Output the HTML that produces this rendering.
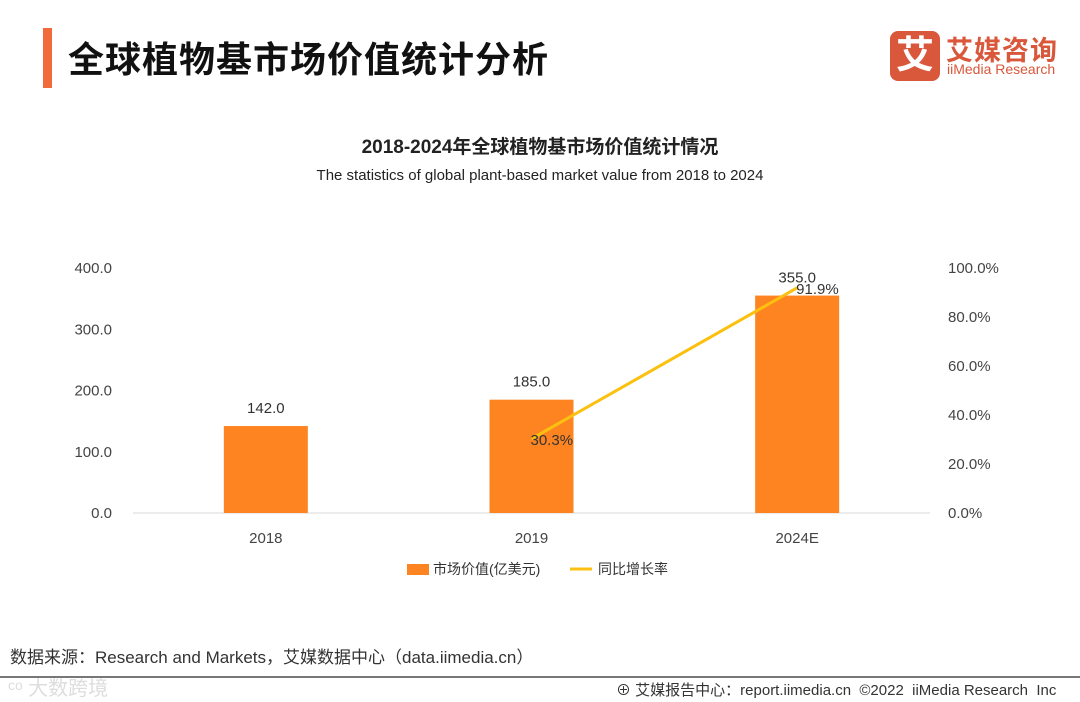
<!DOCTYPE html>
<html><head><meta charset="utf-8"><style>
body{margin:0;width:1080px;height:702px;background:#fff;overflow:hidden;font-family:"Liberation Sans","Noto Sans CJK SC",sans-serif;position:relative}
.a{position:absolute;white-space:nowrap}
</style></head><body>
<div class="a" style="left:43px;top:28px;width:9px;height:60px;background:#f06a3c"></div>
<div class="a" style="left:68px;top:31px;font-size:36px;font-weight:bold;color:#111;letter-spacing:1px">全球植物基市场价值统计分析</div>
<div class="a" style="left:890px;top:31px;width:168px;height:50px">
 <div class="a" style="left:0;top:0;width:50px;height:50px;background:#d9573a;border-radius:8px;color:#fff;font-size:38px;font-weight:bold;text-align:center;line-height:50px">艾</div>
 <div class="a" style="left:56px;top:-2px;font-size:27px;font-weight:bold;color:#d9573a;letter-spacing:1px">艾媒咨询</div>
 <div class="a" style="left:57px;top:30px;font-size:14px;color:#d9573a">iiMedia Research</div>
</div>
<div class="a" style="left:0;width:1080px;text-align:center;top:132px;font-size:19px;font-weight:bold;color:#222">2018-2024年全球植物基市场价值统计情况</div>
<div class="a" style="left:0;width:1080px;text-align:center;top:167px;font-size:15px;color:#222">The statistics of global plant-based market value from 2018 to 2024</div>
<svg class="a" style="left:0;top:0" width="1080" height="702" id="chart"></svg>
<div class="a" style="left:10px;top:643px;font-size:17px;color:#333">数据来源：Research and Markets，艾媒数据中心（data.iimedia.cn）</div>
<div class="a" style="left:0;top:676px;width:1080px;height:2px;background:#777"></div>
<div class="a" style="left:8px;top:672px;font-size:20px;color:#ddd">ᶜᵒ 大数跨境</div>
<div class="a" style="left:616px;top:679px;font-size:15px;color:#333">⊕ 艾媒报告中心：report.iimedia.cn &nbsp;©2022 &nbsp;iiMedia Research &nbsp;Inc</div>
<script>
const categories=["2018","2019","2024E"];
const marketValues=[142.0,185.0,355.0];
const growthRates=[null,30.3,91.9];
const leftTicks=[0,100,200,300,400];
const rightTicks=[0,20,40,60,80,100];
const svg=document.getElementById('chart');
const NS='http://www.w3.org/2000/svg';
const x0=133,x1=930,yTop=268,yBot=513;
const yL=v=>yBot-(v/400)*(yBot-yTop);
const yR=v=>yBot-(v/100)*(yBot-yTop);
const bandW=(x1-x0)/categories.length;
const xC=i=>x0+bandW*(i+0.5);
function mk(t,a,txt){const e=document.createElementNS(NS,t);for(const k in a)e.setAttribute(k,a[k]);if(txt!=null)e.textContent=txt;svg.appendChild(e);return e;}
const ax=mk('line',{x1:x0,x2:x1,y1:yBot,y2:yBot,stroke:'#d9d9d9','stroke-width':1});


leftTicks.forEach(v=>{const t=mk('text',{x:112,y:yL(v)+5,'text-anchor':'end','font-size':15,fill:'#444'},v.toFixed(1));

});
rightTicks.forEach(v=>{const t=mk('text',{x:948,y:yR(v)+5,'font-size':15,fill:'#444'},v.toFixed(1)+'%');

});
categories.forEach((c,i)=>{
 const b=mk('rect',{x:xC(i)-42,y:yL(marketValues[i]),width:84,height:yBot-yL(marketValues[i]),fill:'#fd8421'});
 
 
 const l=mk('text',{x:xC(i),y:yL(marketValues[i])-13,'text-anchor':'middle','font-size':15,fill:'#333'},marketValues[i].toFixed(1));
 
 
 const xl=mk('text',{x:xC(i),y:543,'text-anchor':'middle','font-size':15,fill:'#444'},c);
 
 
});
let pts=[];growthRates.forEach((g,i)=>{if(g!=null)pts.push([xC(i),yR(g),g]);});
const pl=mk('polyline',{points:pts.map(p=>p[0]+','+p[1]).join(' '),fill:'none',stroke:'#fcc010','stroke-width':3});


pts.forEach(p=>{const t=mk('text',{x:p[0]-1,y:p[1]+6,'font-size':15,fill:'#333'},p[2].toFixed(1)+'%');

});
const lg1=mk('rect',{x:407,y:564,width:22,height:11,fill:'#fd8421'});


const lt1=mk('text',{x:433,y:574,'font-size':14,fill:'#333'},'市场价值(亿美元)');


const lg2=mk('line',{x1:570,x2:592,y1:569,y2:569,stroke:'#fcc010','stroke-width':3});


const lt2=mk('text',{x:598,y:574,'font-size':14,fill:'#333'},'同比增长率');


</script>
</body></html>
